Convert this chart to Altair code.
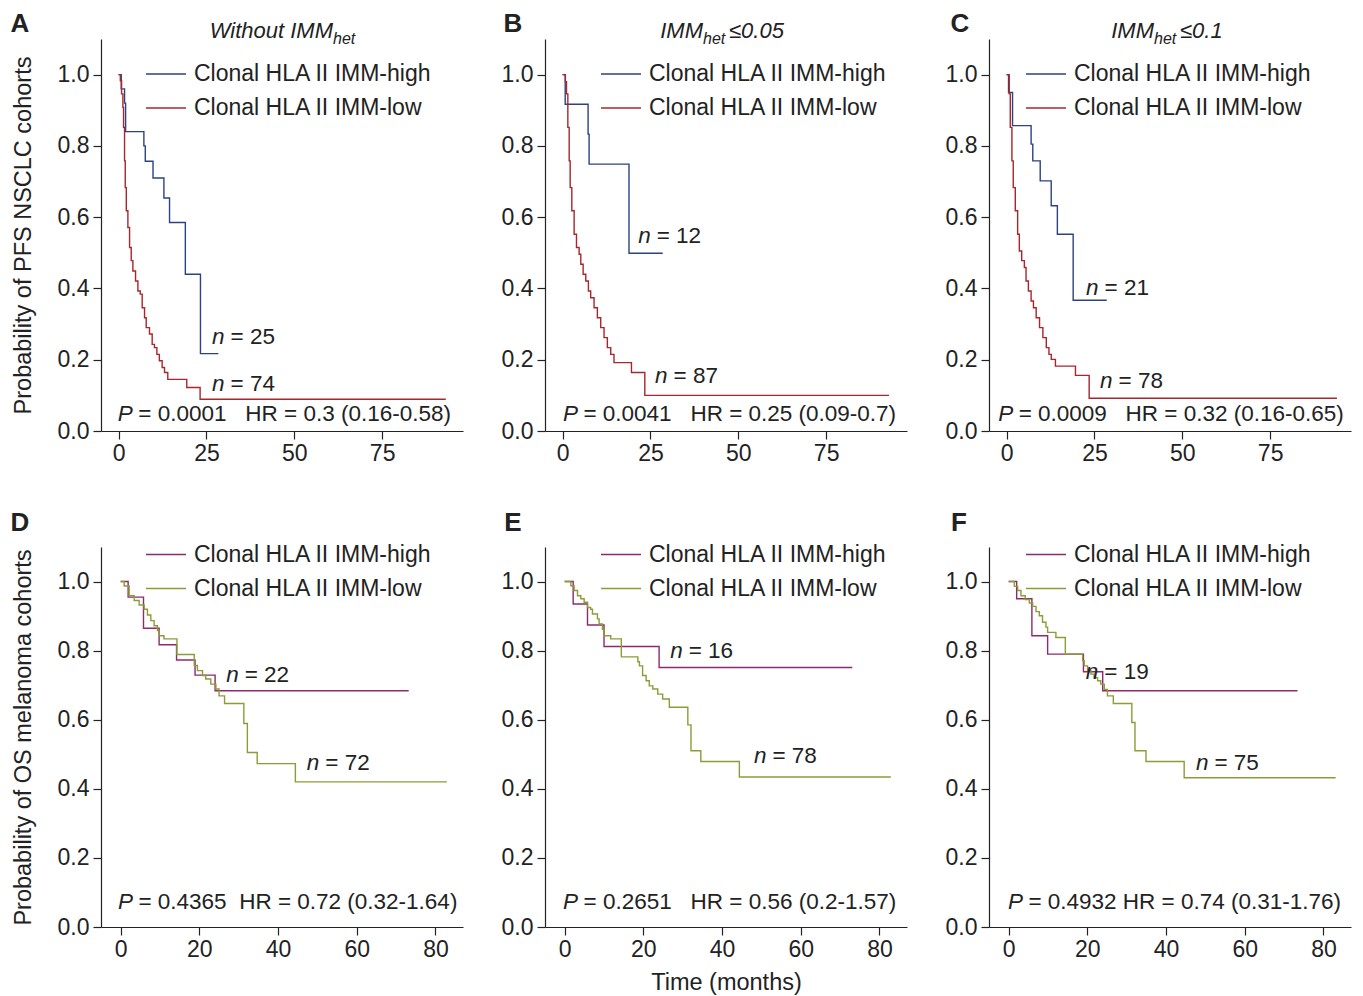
import altair as alt
import pandas as pd

HIGH = "Clonal HLA II IMM-high"
LOW = "Clonal HLA II IMM-low"
FONT = "Liberation Sans"
INK = "#222222"

# ---------------- survival curves (time in months, survival probability) ----------------
# Panel A
a_high_t = [0, 0.76, 1.7, 2.0, 7.2, 7.6, 9.8, 12.9, 14.5, 19.0, 23.3, 28.4]
a_high_s = [1.0, 0.96, 0.92, 0.84, 0.80, 0.757, 0.71, 0.654, 0.585, 0.44, 0.217, 0.217]
a_low_t = [0, 0.5, 0.85, 1.23, 1.42, 1.7, 1.9, 2.2, 2.65, 3.13, 3.6, 4.07, 4.83, 5.5, 6.16, 6.72,
           7.39, 7.86, 8.8, 9.56, 10.2, 10.9, 11.6, 12.4, 13.07, 14.0, 19.4, 23.2, 93.1]
a_low_s = [1.0, 0.983, 0.946, 0.908, 0.852, 0.758, 0.683, 0.618, 0.571, 0.515, 0.478, 0.449, 0.421,
           0.393, 0.384, 0.346, 0.318, 0.29, 0.272, 0.243, 0.234, 0.215, 0.197, 0.178, 0.164, 0.145,
           0.122, 0.089, 0.089]
# Panel B
b_high_t = [0, 0.75, 7.26, 7.55, 18.9, 28.5]
b_high_s = [1.0, 0.917, 0.833, 0.749, 0.499, 0.499]
b_low_t = [0, 0.8, 1.12, 1.5, 1.88, 2.16, 2.63, 3.29, 3.96, 4.71, 5.18, 5.85, 6.6, 7.35, 8.0, 8.96,
           9.9, 10.85, 11.8, 12.74, 13.7, 14.63, 19.6, 23.4, 92.9]
b_low_s = [1.0, 0.98, 0.946, 0.852, 0.758, 0.683, 0.618, 0.552, 0.515, 0.496, 0.468, 0.44, 0.421,
           0.393, 0.374, 0.346, 0.318, 0.29, 0.262, 0.234, 0.215, 0.192, 0.164, 0.1, 0.1]
# Panel C
c_high_t = [0, 0.56, 1.7, 6.98, 7.46, 9.57, 12.7, 14.45, 18.95, 28.5]
c_high_s = [1.0, 0.95, 0.857, 0.805, 0.758, 0.702, 0.632, 0.552, 0.367, 0.367]
c_low_t = [0, 0.76, 1.05, 1.52, 1.9, 2.48, 3.15, 3.63, 4.3, 5.06, 5.54, 6.21, 6.98, 7.65, 8.42, 9.38,
           10.33, 11.3, 12.06, 12.72, 13.9, 19.6, 23.5, 94.0]
c_low_s = [1.0, 0.946, 0.852, 0.758, 0.683, 0.618, 0.552, 0.505, 0.478, 0.459, 0.421, 0.393, 0.365,
           0.346, 0.318, 0.29, 0.262, 0.234, 0.215, 0.201, 0.182, 0.156, 0.092, 0.092]
# Panel D
d_high_t = [0, 1.9, 5.8, 9.77, 14.2, 18.9, 24.0, 73.2]
d_high_s = [1.0, 0.955, 0.865, 0.817, 0.773, 0.729, 0.684, 0.684]
d_low_t = [0, 0.89, 2.16, 3.43, 4.7, 5.97, 6.8, 7.66, 8.5, 9.35, 9.77, 11.0, 14.3, 18.7, 19.5, 20.8,
           21.6, 22.9, 24.2, 25.0, 26.4, 31.3, 32.2, 34.7, 44.4, 82.9]
d_low_s = [1.0, 0.987, 0.959, 0.945, 0.932, 0.92, 0.903, 0.887, 0.872, 0.858, 0.843, 0.834, 0.789,
           0.757, 0.742, 0.728, 0.718, 0.703, 0.689, 0.669, 0.647, 0.589, 0.505, 0.473, 0.42, 0.42]
# Panel E
e_high_t = [0, 2.16, 5.8, 10.0, 24.0, 73.1]
e_high_s = [1.0, 0.935, 0.874, 0.812, 0.751, 0.751]
e_low_t = [0, 1.57, 2.4, 3.26, 4.1, 4.95, 5.8, 6.6, 7.06, 8.33, 8.75, 9.6, 10.0, 11.7, 14.4, 18.6,
           19.0, 19.8, 20.7, 21.5, 22.4, 23.65, 24.9, 26.6, 31.3, 32.1, 34.6, 44.4, 82.9]
e_low_s = [1.0, 0.988, 0.974, 0.959, 0.95, 0.94, 0.925, 0.92, 0.906, 0.892, 0.877, 0.862, 0.843,
           0.834, 0.782, 0.768, 0.756, 0.728, 0.713, 0.698, 0.689, 0.674, 0.66, 0.636, 0.585, 0.51,
           0.479, 0.434, 0.434]
# Panel F
f_high_t = [0, 2.03, 5.9, 9.9, 19.0, 23.9, 73.4]
f_high_s = [1.0, 0.95, 0.843, 0.79, 0.739, 0.684, 0.684]
f_low_t = [0, 1.44, 2.28, 3.13, 4.23, 5.25, 6.1, 6.94, 7.78, 8.6, 9.48, 9.9, 12.0, 14.4, 18.8, 19.2,
           20.05, 20.9, 21.7, 22.6, 23.4, 24.3, 25.1, 26.6, 31.3, 32.1, 34.9, 44.6, 83.1]
f_low_s = [1.0, 0.986, 0.974, 0.959, 0.948, 0.938, 0.928, 0.913, 0.901, 0.882, 0.868, 0.853, 0.838,
           0.79, 0.771, 0.756, 0.742, 0.732, 0.722, 0.713, 0.703, 0.688, 0.669, 0.647, 0.592, 0.51,
           0.479, 0.432, 0.432]

CURVES = [
    (a_high_t, a_high_s, a_low_t, a_low_s),
    (b_high_t, b_high_s, b_low_t, b_low_s),
    (c_high_t, c_high_s, c_low_t, c_low_s),
    (d_high_t, d_high_s, d_low_t, d_low_s),
    (e_high_t, e_high_s, e_low_t, e_low_s),
    (f_high_t, f_high_s, f_low_t, f_low_s),
]

# ---------------- annotations ----------------
LETTERS = ["A", "B", "C", "D", "E", "F"]
N_HIGH = ["25", "12", "21", "22", "16", "19"]
N_LOW = ["74", "87", "78", "72", "78", "75"]
N_HIGH_POS = [(26.6, 0.265), (21.5, 0.548), (22.6, 0.401), (26.8, 0.73), (26.8, 0.80), (19.6, 0.737)]
N_LOW_POS = [(26.6, 0.131), (26.3, 0.153), (26.6, 0.140), (47.3, 0.475), (48.1, 0.494), (47.6, 0.475)]
P_VALUES = ["0.0001", "0.0041", "0.0009", "0.4365", "0.2651", "0.4932"]
HR_TEXT = ["HR = 0.3 (0.16-0.58)", "HR = 0.25 (0.09-0.7)", "HR = 0.32 (0.16-0.65)",
           "HR = 0.72 (0.32-1.64)", "HR = 0.56 (0.2-1.57)", "HR = 0.74 (0.31-1.76)"]
P_GAP = [3, 3, 3, 2, 3, 1]
P_POS = [(-0.2, 0.048), (0.1, 0.048), (-2.4, 0.048), (-0.7, 0.072), (-0.4, 0.072), (-0.2, 0.072)]

TITLE_MAIN = ["Without IMM", "IMM", "IMM"]
TITLE_SUB = ["het", "het", "het"]
TITLE_TAIL = ["", "\u22640.05", "\u22640.1"]

Y_TITLES = ["Probability of PFS NSCLC cohorts", "Probability of OS melanoma cohorts"]
X_TITLE = "Time (months)"

X_DOMAINS = [[-5, 98], [-5, 87]]
X_TICKS = [[0, 25, 50, 75], [0, 20, 40, 60, 80]]
Y_TICKS = [0.0, 0.2, 0.4, 0.6, 0.8, 1.0]
COLORS = [["#2d4185", "#a8262c"], ["#8c2b6d", "#8c9c36"]]

# layout / style (pixels)
W = 362
H = [392, 380]
LEG_X = [44, 55, 36, 44, 55, 36]
LEG_Y = [14, -13.5]
LETTER_POS = [(-81, -15), (-32, -15), (-29, -15), (-81, -24), (-32, -24), (-30, -24)]
TITLE_X = [(232, None), (158, 184), (165, 191)]


def one(k):
    row = 0 if k < 3 else 1
    col = k % 3
    ht, hs, lt, ls = CURVES[k]
    df = pd.DataFrame({
        "t": ht + lt,
        "S": hs + ls,
        "group": [HIGH] * len(ht) + [LOW] * len(lt),
    })
    xscale = alt.Scale(domain=X_DOMAINS[row], nice=False, zero=False)
    yscale = alt.Scale(domain=[0, 1.1], nice=False)
    xaxis = alt.Axis(values=X_TICKS[row], title=X_TITLE if k == 4 else None,
                     titlePadding=9.5, labelPadding=3)
    yaxis = alt.Axis(values=Y_TICKS, format=".1f", title=Y_TITLES[row] if col == 0 else None,
                     titlePadding=22, labelPadding=4)
    X = alt.X("t:Q", scale=xscale, axis=xaxis)
    Y = alt.Y("S:Q", scale=yscale, axis=yaxis)

    lines = alt.Chart(df).mark_line(interpolate="step-after", strokeWidth=1.4).encode(
        x=X, y=Y,
        color=alt.Color("group:N", scale=alt.Scale(domain=[HIGH, LOW], range=COLORS[row]),
                        legend=alt.Legend(title=None, orient="none", legendX=LEG_X[k], legendY=LEG_Y[row],
                                          symbolType="stroke", symbolSize=1600, symbolStrokeWidth=1.4,
                                          labelFontSize=23, labelFont=FONT, labelColor=INK,
                                          labelLimit=0, labelOffset=7, rowPadding=1, padding=0)),
    )

    ndf = pd.DataFrame({
        "t": [N_HIGH_POS[k][0], N_LOW_POS[k][0]],
        "S": [N_HIGH_POS[k][1], N_LOW_POS[k][1]],
        "rest": ["= " + N_HIGH[k], "= " + N_LOW[k]],
    })
    n_it = alt.Chart(ndf).mark_text(text="n", fontStyle="italic", fontSize=22.5, font=FONT,
                                    align="left", baseline="middle", color=INK).encode(x=X, y=Y)
    n_rest = alt.Chart(ndf).mark_text(fontSize=22.5, font=FONT, align="left", baseline="middle",
                                      color=INK, dx=18.5).encode(x=X, y=Y, text="rest:N")

    pdf = pd.DataFrame({
        "t": [P_POS[k][0]], "S": [P_POS[k][1]],
        "rest": ["= " + P_VALUES[k] + "\u00a0" * (P_GAP[k] - 1) + " " + HR_TEXT[k]],
    })
    p_it = alt.Chart(pdf).mark_text(text="P", fontStyle="italic", fontSize=22.5, font=FONT,
                                    align="left", baseline="middle", color=INK).encode(x=X, y=Y)
    p_rest = alt.Chart(pdf).mark_text(fontSize=22.5, font=FONT, align="left", baseline="middle",
                                      color=INK, dx=20.5).encode(x=X, y=Y, text="rest:N")

    one_row = pd.DataFrame({"k": [0]})
    letter = alt.Chart(one_row).mark_text(text=LETTERS[k], fontSize=26, fontWeight="bold", font=FONT,
                                          align="center", baseline="middle", color=INK).encode(
        x=alt.value(LETTER_POS[k][0]), y=alt.value(LETTER_POS[k][1]))

    layers = [lines, n_it, n_rest, p_it, p_rest, letter]

    if row == 0:
        mx, tx = TITLE_X[col]
        main = alt.Chart(one_row).mark_text(text=TITLE_MAIN[col], fontStyle="italic", fontSize=22,
                                            font=FONT, align="right", baseline="alphabetic",
                                            color=INK).encode(x=alt.value(mx), y=alt.value(-1))
        sub = alt.Chart(one_row).mark_text(text=TITLE_SUB[col], fontStyle="italic", fontSize=16,
                                           font=FONT, align="left", baseline="alphabetic",
                                           color=INK).encode(x=alt.value(mx), y=alt.value(5))
        layers += [main, sub]
        if tx is not None:
            tail = alt.Chart(one_row).mark_text(text=TITLE_TAIL[col], fontStyle="italic", fontSize=22,
                                                font=FONT, align="left", baseline="alphabetic",
                                                color=INK).encode(x=alt.value(tx), y=alt.value(-1))
            layers.append(tail)

    return alt.layer(*layers).properties(width=W, height=H[row])


chart = alt.concat(
    *[one(k) for k in range(6)],
    columns=3, spacing={"row": 116, "column": 82}, bounds="flush",
).resolve_scale(
    color="independent"
).properties(
    padding={"left": 2, "top": 3, "right": 2, "bottom": 2},
    background="white",
).configure_view(
    strokeWidth=0
).configure_axis(
    domainColor=INK, tickColor=INK, labelColor=INK, titleColor=INK,
    labelFont=FONT, titleFont=FONT, labelFontSize=23, titleFontSize=23.5,
    titleFontWeight="normal", tickSize=8, grid=False, domainWidth=1.2, tickWidth=1.2,
)

chart.save("out.html", embed_options={"renderer": "svg", "actions": False})
